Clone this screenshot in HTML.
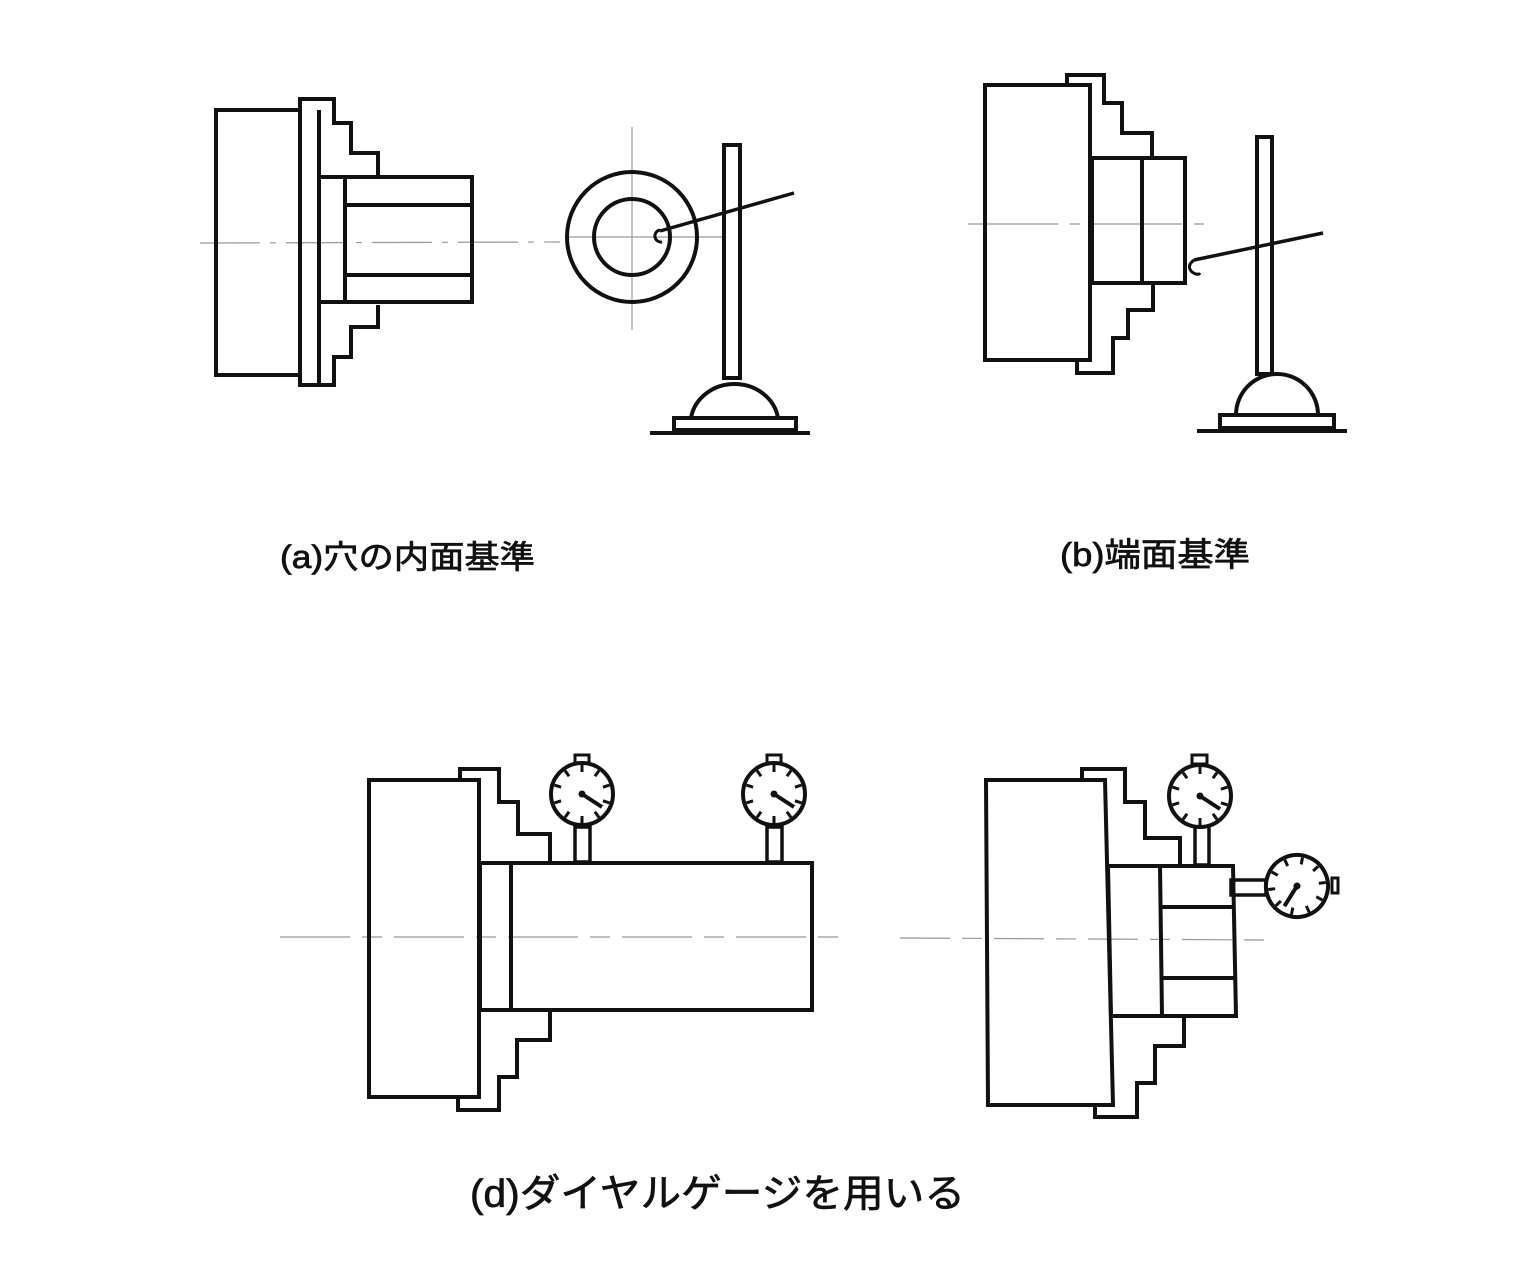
<!DOCTYPE html>
<html><head><meta charset="utf-8"><style>
html,body{margin:0;padding:0;background:#fff;}
svg{display:block}
text{font-family:"Liberation Sans","Noto Sans CJK JP",sans-serif;fill:#111;stroke:#111;stroke-width:0.7}
</style></head><body>
<svg width="1536" height="1262" viewBox="0 0 1536 1262" xmlns="http://www.w3.org/2000/svg">
<defs>
<g id="dial">
<circle r="31" fill="#fff" stroke="#111" stroke-width="4"/>
<g stroke="#111" stroke-width="3">
<line x1="0" y1="-22" x2="0" y2="-29"/>
<line x1="0" y1="-22" x2="0" y2="-29" transform="rotate(36)"/>
<line x1="0" y1="-22" x2="0" y2="-29" transform="rotate(72)"/>
<line x1="0" y1="-22" x2="0" y2="-29" transform="rotate(108)"/>
<line x1="0" y1="-22" x2="0" y2="-29" transform="rotate(144)"/>
<line x1="0" y1="-22" x2="0" y2="-29" transform="rotate(180)"/>
<line x1="0" y1="-22" x2="0" y2="-29" transform="rotate(216)"/>
<line x1="0" y1="-22" x2="0" y2="-29" transform="rotate(252)"/>
<line x1="0" y1="-22" x2="0" y2="-29" transform="rotate(288)"/>
<line x1="0" y1="-22" x2="0" y2="-29" transform="rotate(324)"/>
</g>
<line x1="0" y1="0" x2="20" y2="13" stroke="#111" stroke-width="4"/>
<circle r="3.5" fill="#111"/>
</g>
</defs>
<g fill="none" stroke="#111" stroke-width="4" stroke-linejoin="miter">
<!-- Panel a -->
<line x1="200" y1="243" x2="560" y2="242" stroke="#999" stroke-width="1.2" stroke-dasharray="60 10 6 10"/>
<rect x="216" y="110" width="84" height="265"/>
<polyline points="300,110 300,99 334,99 334,123 351,123 351,153 378,153 378,177"/>
<line x1="319" y1="110" x2="319" y2="385"/>
<polyline points="300,375 300,385 334,385 334,357 351,357 351,327 378,327 378,305"/>
<rect x="319" y="177" width="153" height="125"/>
<line x1="345" y1="177" x2="345" y2="302"/>
<line x1="345" y1="205" x2="472" y2="205"/>
<line x1="345" y1="275" x2="472" y2="275"/>
<line x1="632" y1="127" x2="632" y2="330" stroke="#999" stroke-width="1.2"/>
<line x1="566" y1="237" x2="724" y2="237" stroke="#999" stroke-width="1.2"/>
<circle cx="632" cy="237" r="65"/>
<circle cx="632" cy="237" r="38"/>
<path d="M660,230 A5,5 0 1 0 662,242" stroke-width="3"/>
<line x1="660" y1="231" x2="794" y2="193" stroke-width="3.5"/>
<rect x="724" y="145" width="16" height="233"/>
<path d="M691,418 A44,40 0 0 1 778,418 Z"/>
<rect x="674" y="418" width="122" height="12"/>
<line x1="650" y1="433" x2="810" y2="433"/>
<!-- Panel b -->
<line x1="968" y1="224" x2="1207" y2="224" stroke="#999" stroke-width="1.2" stroke-dasharray="90 12 10 12"/>
<rect x="985" y="85" width="105" height="275"/>
<polyline points="1067,85 1067,75 1104,75 1104,103 1122,103 1122,133 1152,133 1152,158"/>
<rect x="1092" y="158" width="93" height="125"/>
<line x1="1142" y1="158" x2="1142" y2="283"/>
<polyline points="1153,283 1153,310 1128,310 1128,338 1113,338 1113,373 1077,373 1077,360"/>
<line x1="1194" y1="260" x2="1323" y2="233" stroke-width="3.5"/>
<path d="M1194,260 Q1186,266 1192,272 Q1198,276 1200,273" stroke-width="3"/>
<rect x="1257" y="137" width="15" height="237"/>
<path d="M1236,415 A41,41 0 0 1 1318,415 Z"/>
<rect x="1220" y="415" width="114" height="13"/>
<line x1="1197" y1="431" x2="1347" y2="431"/>
<!-- Panel d left -->
<line x1="280" y1="937" x2="850" y2="937" stroke="#999" stroke-width="1.2" stroke-dasharray="70 12 20 12"/>
<rect x="369" y="780" width="110" height="317"/>
<polyline points="460,780 460,769 499,769 499,802 518,802 518,834 550,834 550,863"/>
<rect x="480" y="863" width="332" height="147"/>
<line x1="511" y1="863" x2="511" y2="1010"/>
<polyline points="550,1010 550,1040 517,1040 517,1077 499,1077 499,1110 458,1110 458,1097"/>
<rect x="575" y="827" width="15" height="35" stroke-width="3.5"/>
<rect x="575" y="755" width="14" height="9" stroke-width="3"/>
<rect x="767" y="827" width="15" height="35" stroke-width="3.5"/>
<rect x="767" y="755" width="14" height="9" stroke-width="3"/>
<!-- Panel d right -->
<line x1="900" y1="938" x2="1270" y2="940" stroke="#999" stroke-width="1.2" stroke-dasharray="50 12 20 12"/>
<polygon points="986,780 1105,780 1113,1105 988,1105"/>
<polyline points="1082,780 1082,769 1125,769 1125,802 1145,802 1145,838 1180,838 1180,866"/>
<polygon points="1108,866 1233,866 1236,1016 1111,1016"/>
<line x1="1160" y1="866" x2="1162" y2="1016"/>
<line x1="1160" y1="907" x2="1233" y2="907"/>
<line x1="1161" y1="978" x2="1235" y2="978"/>
<polyline points="1184,1016 1184,1046 1155,1046 1155,1083 1137,1083 1137,1117 1095,1117 1095,1105"/>
<rect x="1195" y="826" width="14" height="39" stroke-width="3.5"/>
<rect x="1192" y="755" width="15" height="9" stroke-width="3"/>
<rect x="1231" y="880" width="35" height="15" stroke-width="3.5"/>
<rect x="1332" y="878" width="6" height="15" stroke-width="3"/>
</g>
<use href="#dial" x="582" y="794"/>
<use href="#dial" x="774" y="794"/>
<use href="#dial" x="1200" y="796"/>
<g transform="translate(1297,886) scale(-1,1) rotate(25)"><use href="#dial"/></g>
<text x="280" y="568" font-size="32" textLength="255" lengthAdjust="spacingAndGlyphs">(a)穴の内面基準</text>
<text x="1060" y="566" font-size="33" textLength="190" lengthAdjust="spacingAndGlyphs">(b)端面基準</text>
<text x="470" y="1207" font-size="39" textLength="495" lengthAdjust="spacingAndGlyphs">(d)ダイヤルゲージを用いる</text>
</svg>
</body></html>
